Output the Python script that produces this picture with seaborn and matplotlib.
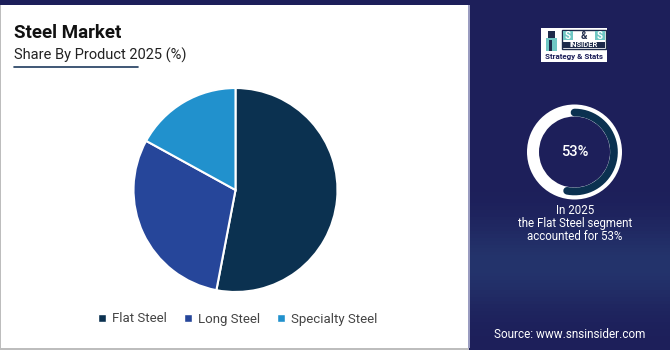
import numpy as np
import matplotlib
matplotlib.use("Agg")
import matplotlib.pyplot as plt
from matplotlib.patches import Rectangle
import seaborn as sns

sns.set_theme(style="white")
plt.rcParams["font.family"] = ["Roboto", "DejaVu Sans"]

# Chart data
products = ["Flat Steel", "Long Steel", "Specialty Steel"]
shares = [53, 30, 17]
colors = ["#0b3150", "#26469a", "#2191cd"]
highlight_year = "2025"
highlight_segment = "Flat Steel"
highlight_share = 53

W, H = 670, 350
NAVY = "#1d1f5a"

fig = plt.figure(figsize=(W / 100, H / 100), dpi=100)
fig.patch.set_facecolor(NAVY)

def fax(x0, y0, w, h):
    """Axes placed in pixel coordinates measured from the top-left corner."""
    return fig.add_axes([x0 / W, 1 - (y0 + h) / H, w / W, h / H])

# Background: white content panel and navy side panel with a soft gradient
bg = fax(0, 0, W, H)
bg.set_xlim(0, W)
bg.set_ylim(H, 0)
bg.axis("off")
grad = np.ones((100, 1, 3))
ys = np.linspace(0, 1, 100)
base = np.array([29, 31, 90]) / 255
light = np.array([36, 52, 108]) / 255
w = np.exp(-((ys - 0.76) / 0.12) ** 2)
grad[:, 0, :] = base * (1 - w[:, None]) + light * w[:, None]
bg.imshow(grad, extent=[469, W, H, 0], aspect="auto", zorder=0)
bg.add_patch(Rectangle((0, 5), 469, 343, facecolor="white", edgecolor="none", zorder=1))
bg.add_patch(Rectangle((0, 5), 1.2, 343, facecolor="#bdbdbd", edgecolor="none", zorder=2))
bg.add_patch(Rectangle((0, 347.5), 469, 2.5, facecolor="#bdbdbd", edgecolor="none", zorder=2))
bg.add_patch(Rectangle((468, 5), 1.5, 343, facecolor="#9a9cc0", edgecolor="none", zorder=2))

# Titles
bg.text(14, 38, "Steel Market", fontsize=13.5, fontweight="bold", color="#111111",
        ha="left", va="baseline", zorder=3)
bg.text(14, 60, "Share By Product 2025 (%)", fontsize=10.5, color="#222222",
        ha="left", va="baseline", zorder=3)
bg.plot([14, 138], [67, 67], color="#1f3b5e", lw=1.2, zorder=3)

# Pie chart
pax = fax(235.5 - 103, 190 - 103, 206, 206)
pax.pie(shares, colors=colors, startangle=90, counterclock=False,
        wedgeprops=dict(edgecolor="white", linewidth=1.5))
pax.set_xlim(-1.01, 1.01)
pax.set_ylim(-1.01, 1.01)
pax.set_aspect("equal")
pax.axis("off")

# Legend
handles = [Rectangle((0, 0), 1, 1, facecolor=c) for c in colors]
leg = fig.legend(handles, products, loc="center", bbox_to_anchor=(238 / W, 1 - 319 / H),
                 ncol=3, frameon=False, fontsize=9.5, handlelength=0.6, handleheight=0.6,
                 handletextpad=0.45, columnspacing=1.3, labelcolor="#444444")

# Logo block
bg.add_patch(Rectangle((541, 28), 66, 34, facecolor="white", edgecolor="none", zorder=3))
bg.add_patch(Rectangle((562, 30), 44, 19, facecolor="white", edgecolor="#1d2a4a", lw=1.0, zorder=4))
for xs, ch in [(568, "S"), (584, "&"), (600, "S")]:
    if ch == "S":
        bg.add_patch(Rectangle((xs - 5, 31), 10, 9, facecolor="#6fc7c4", edgecolor="none", zorder=5))
    bg.text(xs, 35.8, ch, fontsize=7, fontweight="bold", color="white" if ch == "S" else "#1d2a4a",
            ha="center", va="center", zorder=6)
bg.add_patch(Rectangle((563, 41.5), 42, 6.5, facecolor="#1d2a4a", edgecolor="none", zorder=5))
bg.text(584, 44.9, "INSIDER", fontsize=5.5, fontweight="bold", color="white",
        ha="center", va="center", zorder=6)
bg.text(574, 56.5, "Strategy & Stats", fontsize=5.8, fontweight="bold", color=NAVY,
        ha="center", va="center", zorder=5)
bg.add_patch(Rectangle((546, 38), 11, 13, facecolor="#6fc7c4", edgecolor="none", zorder=4))
bg.add_patch(Rectangle((548, 31), 7, 7, facecolor="#1d2a4a", edgecolor="none", zorder=4))
bg.add_patch(Rectangle((549, 40), 3, 11, facecolor="#1d2a4a", edgecolor="none", zorder=5))

# Highlight ring
rax = fax(574.5 - 50, 152 - 50, 100, 100)
rax.pie([1], radius=47.5, colors=["white"], wedgeprops=dict(width=12, edgecolor="none"))
frac = highlight_share / 100
theta = np.radians(90 - np.linspace(0, 360 * frac, 200))
rax.plot(39.5 * np.cos(theta), 39.5 * np.sin(theta), color="#0b3150", lw=5.5,
         solid_capstyle="round")
rax.set_xlim(-50, 50)
rax.set_ylim(-50, 50)
rax.set_aspect("equal")
rax.axis("off")
rax.text(0, 0, f"{highlight_share}%", fontsize=10.5, fontweight="medium", color="white",
         ha="center", va="center")

bg.text(575, 223.5, f"In {highlight_year}\nthe {highlight_segment} segment\naccounted for {highlight_share}%",
        fontsize=8.3, color="white", ha="center", va="center", linespacing=0.95, zorder=3)
bg.text(570, 334, "Source: www.snsinsider.com", fontsize=8.5, color="white",
        ha="center", va="center", zorder=3)

fig.savefig("out.png", dpi=100, facecolor=fig.get_facecolor())
